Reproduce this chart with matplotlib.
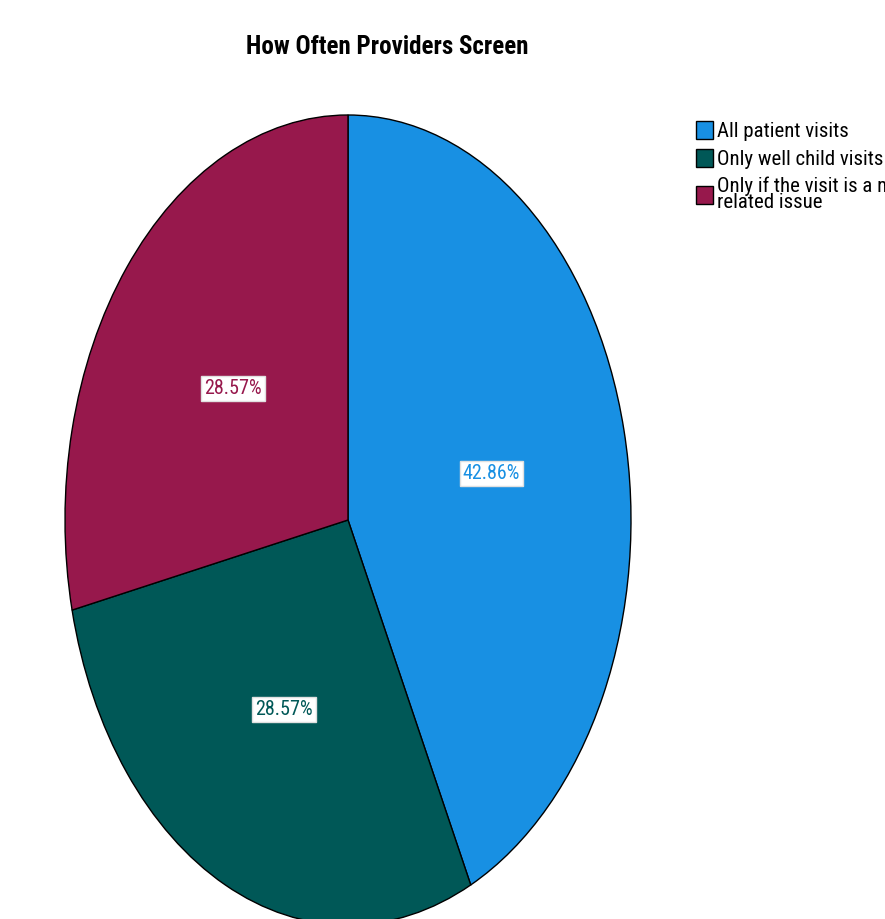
import matplotlib.pyplot as plt

categories = ["All patient visits", "Only well child visits",
              "Only if the visit is a mental health\nrelated issue"]
values = [42.86, 28.57, 28.57]
colors = ["#1890E3", "#005857", "#97184C"]

plt.rcParams['font.family'] = ['Roboto Condensed', 'DejaVu Sans']
plt.rcParams['font.stretch'] = 'condensed'

fig = plt.figure(figsize=(8.85, 9.19), dpi=100)
# the pie is a stretched ellipse that runs off the bottom of the figure
ax = fig.add_axes([65 / 885, (919 - 925) / 919, 566 / 885, 810 / 919])

wedges, texts, autotexts = ax.pie(
    values, colors=colors, startangle=90, counterclock=False,
    autopct='%1.2f%%', pctdistance=0.52,
    wedgeprops=dict(edgecolor='black', linewidth=1.0))
ax.set_aspect('auto')
ax.set_xlim(-1, 1)
ax.set_ylim(-1, 1)

for t, c in zip(autotexts, colors):
    t.set_color(c)
    t.set_fontsize(14.5)
    t.set_bbox(dict(facecolor='white', edgecolor='#e0e0e0', boxstyle='square,pad=0.15'))

fig.text(387 / 885, 1 - 47 / 919, "How Often Providers Screen",
         ha='center', va='center', fontsize=18, fontweight='bold')

leg = fig.legend(wedges, categories, loc='upper left',
                 bbox_to_anchor=(688 / 885, 1 - 113 / 919),
                 frameon=False, fontsize=15, handlelength=0.8,
                 handleheight=0.95, handletextpad=0.2, labelspacing=0.35,
                 borderaxespad=0)
for t in leg.get_texts():
    t.set_linespacing(0.85)

plt.savefig('out.png', dpi=100, facecolor='white')
